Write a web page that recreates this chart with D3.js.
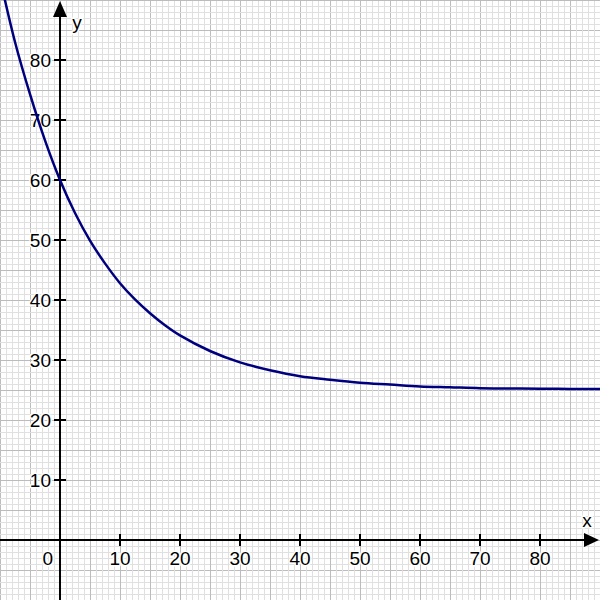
<!DOCTYPE html>
<html><head><meta charset="utf-8">
<script src="https://cdn.jsdelivr.net/npm/d3@7"></script>
<style>body{margin:0;background:#fff}svg{display:block}</style>
</head><body>
<svg id="c" width="600" height="600"></svg>
<script>
const xTicks = [10, 20, 30, 40, 50, 60, 70, 80];
const yTicks = [10, 20, 30, 40, 50, 60, 70, 80];
const curveX = [-10, -7.5, -5, -2.5, 0, 2.5, 5, 7.5, 10, 12.5, 15, 17.5, 20, 25, 30, 35, 40, 45, 50, 55, 60, 65, 70, 75, 80, 85, 90];
const curveY = [93.6, 83.0, 74.3, 66.6, 60.0, 54.5, 49.9, 46.1, 42.8, 40.1, 37.8, 35.8, 34.1, 31.5, 29.6, 28.3, 27.3, 26.7, 26.2, 25.9, 25.6, 25.45, 25.3, 25.25, 25.2, 25.18, 25.15];

const W = 600, H = 600;
const x = d3.scaleLinear().domain([-10, 90]).range([0, W]);
const y = d3.scaleLinear().domain([-10, 90]).range([H, 0]);
const svg = d3.select("#c");

// grid
const g = svg.append("g");
for (let v = -10; v <= 90; v++) {
  const major = v % 5 === 0;
  const col = major ? "#bcbcbc" : "#e0e0e0";
  g.append("line").attr("x1", x(v)+0.5).attr("x2", x(v)+0.5).attr("y1", 0).attr("y2", H)
    .attr("stroke", col).attr("stroke-width", 1);
  g.append("line").attr("y1", y(v)+0.5).attr("y2", y(v)+0.5).attr("x1", 0).attr("x2", W)
    .attr("stroke", col).attr("stroke-width", 1);
}

// axes
svg.append("line").attr("x1", 0).attr("x2", W - 14).attr("y1", y(0)).attr("y2", y(0))
  .attr("stroke", "#000").attr("stroke-width", 2);
svg.append("line").attr("x1", x(0)).attr("x2", x(0)).attr("y1", H).attr("y2", 16)
  .attr("stroke", "#000").attr("stroke-width", 2);
svg.append("path").attr("d", `M${W-1},${y(0)} L${W-16},${y(0)-7} L${W-16},${y(0)+7} Z`).attr("fill", "#000");
svg.append("path").attr("d", `M${x(0)},1 L${x(0)-7},17 L${x(0)+7},17 Z`).attr("fill", "#000");

const font = "Liberation Sans, Arial, sans-serif";
const FS = 19;
function label(px, py, anchor, txt) {
  svg.append("text").attr("x", px).attr("y", py).attr("text-anchor", anchor)
    .attr("font-family", font).attr("font-size", FS).attr("fill", "#000")
    .attr("stroke", "#fff").attr("stroke-width", 3).attr("stroke-linejoin", "round")
    .attr("paint-order", "stroke").text(txt);
}
// ticks
xTicks.forEach(t => {
  svg.append("line").attr("x1", x(t)).attr("x2", x(t)).attr("y1", y(0)-6).attr("y2", y(0)+6)
    .attr("stroke", "#000").attr("stroke-width", 2);
  label(x(t), y(0)+25, "middle", t);
});
yTicks.forEach(t => {
  svg.append("line").attr("x1", x(0)-6).attr("x2", x(0)+6).attr("y1", y(t)).attr("y2", y(t))
    .attr("stroke", "#000").attr("stroke-width", 2);
  label(x(0)-9, y(t)+7, "end", t);
});
label(x(0)-7, y(0)+25, "end", "0");
label(587, 527, "middle", "x");
label(77, 29, "middle", "y");

// curve
const pts = curveX.map((v, i) => [v, curveY[i]]);
const line = d3.line().x(d => x(d[0])).y(d => y(d[1])).curve(d3.curveCatmullRom.alpha(0.5));
svg.append("path").datum(pts).attr("d", line).attr("fill", "none")
  .attr("stroke", "#00007f").attr("stroke-width", 2.5);
</script>
</body></html>
